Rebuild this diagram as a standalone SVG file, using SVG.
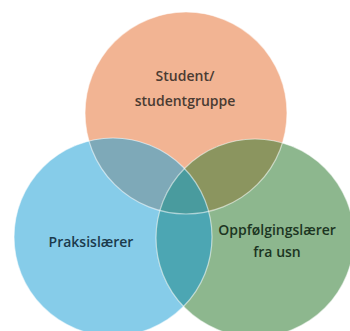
<svg xmlns="http://www.w3.org/2000/svg" width="350" height="331" viewBox="0 0 350 331">
  <style>
    .lbl { font-family: "Open Sans", "Liberation Sans", sans-serif; font-size: 14px; font-weight: 600; text-anchor: middle; }
    .edge { fill: none; stroke: #ffffff; stroke-opacity: 0.55; stroke-width: 1.2; }
  </style>
  <defs>
    <clipPath id="clipA"><circle cx="186" cy="113" r="101"/></clipPath>
    <clipPath id="clipB"><circle cx="113" cy="237" r="99"/></clipPath>
  </defs>
  <rect width="350" height="331" fill="#ffffff"/>
  <g id="student">
    <circle cx="186" cy="113" r="101" fill="#F2B493"/>
  </g>
  <g id="praksislaerer">
    <circle cx="113" cy="237" r="99" fill="#86CCE9"/>
  </g>
  <g id="oppfolgingslaerer">
    <circle cx="255" cy="238" r="99" fill="#8DB78E"/>
  </g>
  <g id="overlaps">
    <g clip-path="url(#clipA)">
      <circle cx="113" cy="237" r="99" fill="#7EA9B8"/>
      <circle cx="255" cy="238" r="99" fill="#8B955F"/>
    </g>
    <g clip-path="url(#clipB)">
      <circle cx="255" cy="238" r="99" fill="#4CA6B3"/>
    </g>
    <g clip-path="url(#clipA)">
      <g clip-path="url(#clipB)">
        <circle cx="255" cy="238" r="99" fill="#499B9E"/>
      </g>
    </g>
  </g>
  <g id="edges">
    <circle class="edge" cx="186" cy="113" r="101"/>
    <circle class="edge" cx="113" cy="237" r="99"/>
    <circle class="edge" cx="255" cy="238" r="99"/>
  </g>
  <g id="labels">
    <text class="lbl" x="185" y="81" fill="#4A3B32">Student/</text>
    <text class="lbl" x="185" y="106" fill="#4A3B32">studentgruppe</text>
    <text class="lbl" x="91" y="247" fill="#1B3A4C">Praksislærer</text>
    <text class="lbl" x="277" y="235" fill="#1C3522">Oppfølgingslærer</text>
    <text class="lbl" x="277" y="257" fill="#1C3522">fra usn</text>
  </g>
</svg>
